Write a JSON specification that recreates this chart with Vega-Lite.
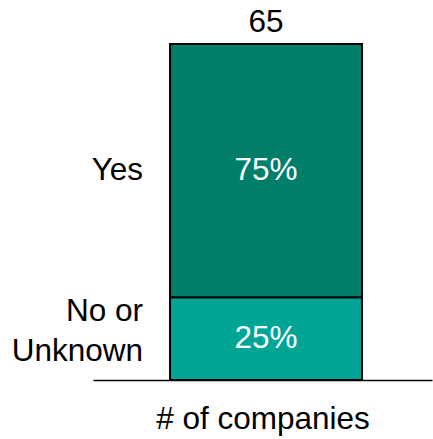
{
  "$schema": "https://vega.github.io/schema/vega-lite/v6.json",
  "width": 339,
  "height": 336,
  "autosize": {"type": "none"},
  "padding": {"left": 93, "right": 1, "top": 44, "bottom": 59},
  "background": "white",
  "config": {"view": {"stroke": null}, "font": "Liberation Sans"},
  "data": {
    "values": [
      {"group": "all", "cat": "No or Unknown", "label": "No or\u00a0\nUnknown", "count": 16, "order": 1, "pct": "25%"},
      {"group": "all", "cat": "Yes", "label": "Yes", "count": 49, "order": 2, "pct": "75%"}
    ]
  },
  "transform": [
    {"stack": "count", "groupby": ["group"], "sort": [{"field": "order"}], "as": ["y0", "y1"]},
    {"calculate": "(datum.y0 + datum.y1) / 2", "as": "mid"}
  ],
  "encoding": {
    "x": {
      "field": "group", "type": "nominal",
      "scale": {"paddingInner": 0, "paddingOuter": 0.3828, "align": 0.524},
      "axis": {
        "labels": false, "ticks": false, "domain": true, "domainColor": "black", "domainWidth": 1.5,
        "title": "# of companies", "titleFontSize": 31.5, "titleFontWeight": "normal", "titleColor": "black",
        "titleFont": "Liberation Sans", "titlePadding": 23
      }
    }
  },
  "layer": [
    {
      "mark": {"type": "bar", "stroke": "black", "strokeWidth": 2},
      "encoding": {
        "y": {"field": "y0", "type": "quantitative", "scale": {"domain": [0, 65], "nice": false, "zero": true}, "axis": null},
        "y2": {"field": "y1"},
        "color": {"field": "cat", "type": "nominal", "scale": {"domain": ["Yes", "No or Unknown"], "range": ["#007E69", "#00A595"]}, "legend": null}
      }
    },
    {
      "mark": {"type": "text", "color": "white", "fontSize": 31.5, "baseline": "middle", "align": "center"},
      "encoding": {
        "y": {"field": "mid", "type": "quantitative"},
        "text": {"field": "pct"}
      }
    },
    {
      "transform": [{"filter": "datum.cat === 'Yes'"}],
      "mark": {"type": "text", "color": "black", "fontSize": 31.5, "baseline": "middle", "align": "right", "dx": -123},
      "encoding": {
        "y": {"field": "mid", "type": "quantitative"},
        "text": {"field": "label"}
      }
    },
    {
      "transform": [{"filter": "datum.cat !== 'Yes'"}],
      "mark": {"type": "text", "color": "black", "fontSize": 31.5, "baseline": "middle", "align": "right", "dx": -123, "dy": -27, "lineBreak": "\n", "lineHeight": 40},
      "encoding": {
        "y": {"field": "mid", "type": "quantitative"},
        "text": {"field": "label"}
      }
    },
    {
      "transform": [{"aggregate": [{"op": "sum", "field": "count", "as": "total"}], "groupby": ["group"]}],
      "mark": {"type": "text", "color": "black", "fontSize": 31.5, "baseline": "alphabetic", "align": "center", "dy": -12},
      "encoding": {
        "y": {"field": "total", "type": "quantitative"},
        "text": {"field": "total", "type": "quantitative"}
      }
    }
  ]
}
